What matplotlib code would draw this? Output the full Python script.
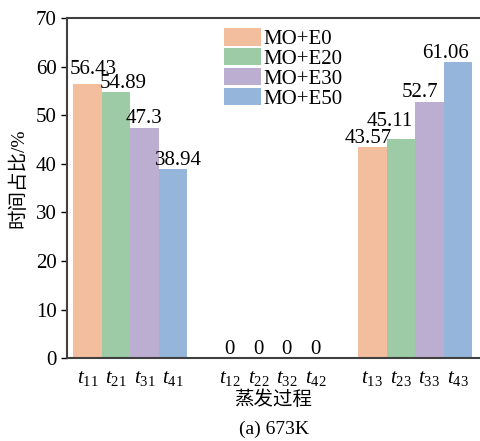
import matplotlib
matplotlib.use("Agg")
import matplotlib.pyplot as plt

plt.rcParams['font.family'] = ['Liberation Serif', 'Noto Sans CJK SC']
plt.rcParams['mathtext.fontset'] = 'custom'
plt.rcParams['mathtext.rm'] = 'Liberation Serif'
plt.rcParams['mathtext.it'] = 'Liberation Serif:italic'

series = ["MO+E0", "MO+E20", "MO+E30", "MO+E50"]
colors = ["#F3BE9E", "#9CCBA5", "#BCAED1", "#95B6DA"]
# values per series for stages 1, 2, 3
values = [
    [56.43, 0, 43.57],
    [54.89, 0, 45.11],
    [47.3, 0, 52.7],
    [38.94, 0, 61.06],
]
stage_labels = [
    [r"$t_{11}$", r"$t_{12}$", r"$t_{13}$"],
    [r"$t_{21}$", r"$t_{22}$", r"$t_{23}$"],
    [r"$t_{31}$", r"$t_{32}$", r"$t_{33}$"],
    [r"$t_{41}$", r"$t_{42}$", r"$t_{43}$"],
]
# label nudges in points (dx, dy), per series and stage
nudges = [
    [(4, 4), (0, -1), (-3, -1)],
    [(5, -1), (0, -1), (-8, 6)],
    [(0, 0), (0, -1), (-7, 0)],
    [(4, -1), (0, -1), (-9, -1)],
]

fig = plt.figure(figsize=(4.8, 4.41), dpi=100)
ax = fig.add_axes([0.139, 0.188, 0.861, 0.7705])

ticks = []
tick_labels = []
for i, name in enumerate(series):
    xs = [g * 5 + i for g in range(3)]
    ax.bar(xs, values[i], 1.0, color=colors[i], label=name)
    for g, x in enumerate(xs):
        v = values[i][g]
        txt = "0" if v == 0 else str(v)
        dx, dy = nudges[i][g]
        ax.annotate(txt, (x, v), xytext=(dx, dy), textcoords="offset points",
                    ha="center", va="bottom", fontsize=15)
        ticks.append(x)
        tick_labels.append(stage_labels[i][g])

ax.set_xticks(ticks)
ax.set_xticklabels(tick_labels, fontsize=15)
ax.tick_params(axis="x", length=0, pad=8)
ax.tick_params(axis="y", direction="out", length=4, labelsize=15, width=1, pad=3)

ax.set_xlim(-0.73, 13.78)
ax.set_ylim(0, 70)
ax.set_yticks(range(0, 71, 10))

for s in ["left", "bottom", "top"]:
    ax.spines[s].set_linewidth(1.5)
    ax.spines[s].set_color("#404040")
ax.spines["right"].set_visible(False)

ax.set_ylabel("时间占比/%", fontsize=14)
ax.yaxis.set_label_coords(-0.095, 0.53)
ax.set_xlabel("蒸发过程", fontsize=14, labelpad=2)
fig.text(0.57, 0.006, "(a) 673K", ha="center", va="bottom", fontsize=14)

ax.legend(loc="upper left", bbox_to_anchor=(0.36, 0.995), frameon=False,
          fontsize=15, handlelength=1.8, handleheight=0.9,
          handletextpad=0.1, labelspacing=-0.05, borderaxespad=0.3,
          borderpad=0.1)

fig.savefig("out.png", dpi=100)
